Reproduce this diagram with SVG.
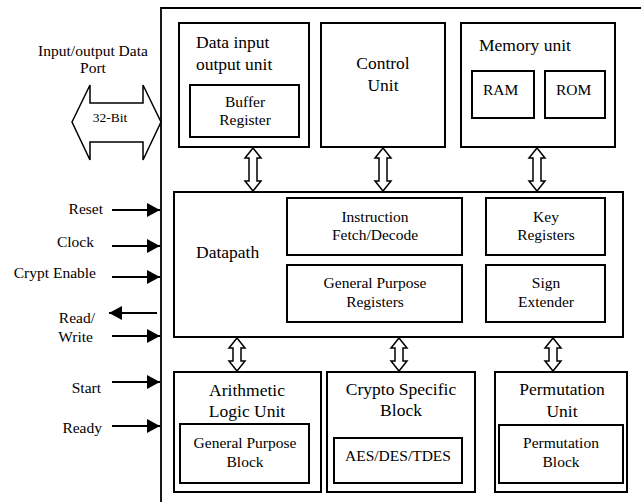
<svg xmlns="http://www.w3.org/2000/svg" width="641" height="502" viewBox="0 0 641 502">
<style>
.box{fill:#fff;stroke:#000;stroke-width:2}
.t{font-family:'Liberation Serif','Times New Roman',Times,serif;fill:#000;font-size:15.5px}
.h{font-size:17.5px}
.m{text-anchor:middle}
.e{text-anchor:end}
.dbl{fill:#fff;stroke:#000;stroke-width:1.5}
.sig{stroke:#000;stroke-width:2.2;fill:none}
</style>
<defs>
<marker id="ah" markerWidth="14" markerHeight="14" refX="13" refY="7" orient="auto" markerUnits="userSpaceOnUse">
<path d="M0,0 L13,7 L0,14 Z" fill="#000"/>
</marker>
</defs>
<rect width="641" height="502" fill="#fff"/>
<g id="outer">
<path d="M161,502 L161,8 L641,8" fill="none" stroke="#000" stroke-width="1.8"/>
</g>
<g id="io-port">
<polygon class="dbl" points="72,122 90,85 90,103 143,103 143,85 161,122 143,160 143,142 90,142 90,160"/>
<text class="t m" x="93" y="56">Input/output Data</text>
<text class="t m" x="93" y="73">Port</text>
<text class="t m" x="110" y="122" style="font-size:13.5px">32-Bit</text>
</g>
<g id="data-io">
<rect class="box" x="179" y="23" width="130" height="124"/>
<text class="t h" x="196" y="48">Data input</text>
<text class="t h" x="196" y="70">output unit</text>
<rect class="box" x="190" y="85" width="109" height="52"/>
<text class="t m" x="245" y="107">Buffer</text>
<text class="t m" x="245" y="125">Register</text>
</g>
<g id="control">
<rect class="box" x="321" y="23" width="124" height="124"/>
<text class="t h m" x="383" y="69">Control</text>
<text class="t h m" x="383" y="91">Unit</text>
</g>
<g id="memory">
<rect class="box" x="461" y="23" width="154" height="124"/>
<text class="t h" x="479" y="51">Memory unit</text>
<rect class="box" x="472" y="71" width="62" height="47"/>
<text class="t" x="483" y="95">RAM</text>
<rect class="box" x="545" y="71" width="60" height="47"/>
<text class="t" x="556" y="95">ROM</text>
</g>
<g id="datapath">
<rect class="box" x="174" y="192" width="449" height="145"/>
<text class="t h" x="196" y="258">Datapath</text>
<rect class="box" x="287" y="198" width="175" height="57"/>
<text class="t m" x="375" y="222">Instruction</text>
<text class="t m" x="375" y="240">Fetch/Decode</text>
<rect class="box" x="287" y="265" width="175" height="57"/>
<text class="t m" x="375" y="288">General Purpose</text>
<text class="t m" x="375" y="307">Registers</text>
<rect class="box" x="486" y="198" width="119" height="57"/>
<text class="t m" x="546" y="222">Key</text>
<text class="t m" x="546" y="240">Registers</text>
<rect class="box" x="486" y="265" width="119" height="57"/>
<text class="t m" x="546" y="288">Sign</text>
<text class="t m" x="546" y="307">Extender</text>
</g>
<g id="alu">
<rect class="box" x="174" y="372" width="147" height="120"/>
<text class="t h m" x="247" y="396">Arithmetic</text>
<text class="t h m" x="247" y="417">Logic Unit</text>
<rect class="box" x="180" y="424" width="129" height="59"/>
<text class="t m" x="245" y="448">General Purpose</text>
<text class="t m" x="245" y="467">Block</text>
</g>
<g id="crypto">
<rect class="box" x="327" y="372" width="148" height="120"/>
<text class="t h m" x="401" y="395">Crypto Specific</text>
<text class="t h m" x="401" y="416">Block</text>
<rect class="box" x="334" y="438" width="128" height="45"/>
<text class="t m" x="398" y="461">AES/DES/TDES</text>
</g>
<g id="permutation">
<rect class="box" x="495" y="372" width="132" height="120"/>
<text class="t h m" x="562" y="395">Permutation</text>
<text class="t h m" x="562" y="417">Unit</text>
<rect class="box" x="499" y="425" width="124" height="58"/>
<text class="t m" x="561" y="448">Permutation</text>
<text class="t m" x="561" y="467">Block</text>
</g>
<g id="signals">
<text class="t e" x="103" y="214">Reset</text>
<text class="t e" x="94" y="247">Clock</text>
<text class="t e" x="96" y="278">Crypt Enable</text>
<text class="t e" x="95" y="323">Read/</text>
<text class="t e" x="93" y="342">Write</text>
<text class="t e" x="101" y="393">Start</text>
<text class="t e" x="102" y="433">Ready</text>
</g>
<g id="connectors">
<line class="sig" x1="112" y1="210" x2="160" y2="210" marker-end="url(#ah)"/>
<line class="sig" x1="112" y1="246" x2="160" y2="246" marker-end="url(#ah)"/>
<line class="sig" x1="112" y1="277" x2="160" y2="277" marker-end="url(#ah)"/>
<line class="sig" x1="157" y1="313" x2="109" y2="313" marker-end="url(#ah)"/>
<line class="sig" x1="112" y1="336" x2="160" y2="336" marker-end="url(#ah)"/>
<line class="sig" x1="112" y1="382" x2="160" y2="382" marker-end="url(#ah)"/>
<line class="sig" x1="112" y1="426" x2="160" y2="426" marker-end="url(#ah)"/>
<polygon class="dbl" points="253,148 261,158 257,158 257,181 261,181 253,191 245,181 249,181 249,158 245,158"/>
<polygon class="dbl" points="383,148 391,158 387,158 387,181 391,181 383,191 375,181 379,181 379,158 375,158"/>
<polygon class="dbl" points="537,148 545,158 541,158 541,181 545,181 537,191 529,181 533,181 533,158 529,158"/>
<polygon class="dbl" points="237,338 245,348 241,348 241,361 245,361 237,371 229,361 233,361 233,348 229,348"/>
<polygon class="dbl" points="399,338 407,348 403,348 403,361 407,361 399,371 391,361 395,361 395,348 391,348"/>
<polygon class="dbl" points="553,338 561,348 557,348 557,361 561,361 553,371 545,361 549,361 549,348 545,348"/>
</g>
</svg>
